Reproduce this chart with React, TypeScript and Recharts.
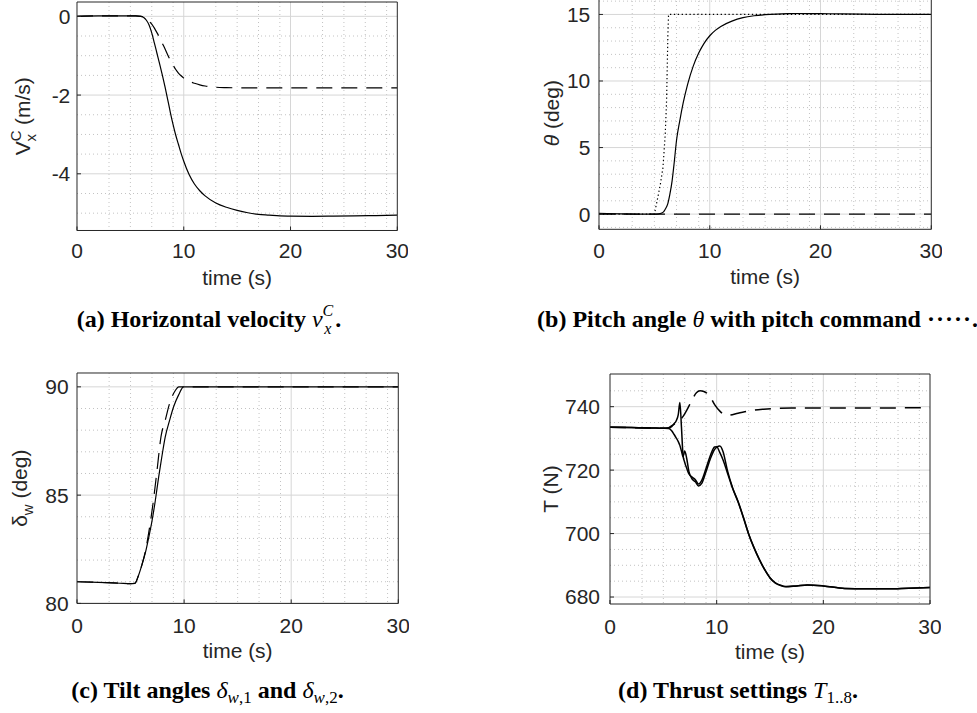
import React from 'react';
import { LineChart, Line, XAxis, YAxis, CartesianGrid } from 'recharts';

const SANS = '"Liberation Sans", Arial, Helvetica, sans-serif';
const SERIF = '"Liberation Serif", "Times New Roman", Times, serif';
const AXIS = '#262626';
const FS = 21;

// shared time axis
const timeTicks = [0, 10, 20, 30];
const timeMinor = [3, 5, 7, 9, 13, 15, 17, 19, 23, 25, 27, 29];

// (a) horizontal velocity
const tA = [0, 2, 4, 5, 5.5, 6, 6.25, 6.5, 6.75, 7, 7.25, 7.5, 7.75, 8, 8.25, 8.5, 8.75, 9, 9.25, 9.5, 9.75, 10, 10.5, 11, 11.5, 12, 13, 14, 15, 16, 17, 18, 19, 20, 22, 24, 26, 28, 30];
const vxSolid = [0, 0.01, 0.01, 0.01, 0.01, 0, -0.03, -0.1, -0.22, -0.42, -0.68, -0.95, -1.22, -1.5, -1.8, -2.12, -2.45, -2.75, -3.02, -3.25, -3.48, -3.68, -4.02, -4.26, -4.43, -4.56, -4.74, -4.85, -4.93, -4.99, -5.03, -5.05, -5.07, -5.075, -5.08, -5.075, -5.07, -5.06, -5.05];
const vxDashed = [0, 0.01, 0.01, 0.01, 0.01, 0, -0.02, -0.06, -0.12, -0.2, -0.3, -0.42, -0.55, -0.69, -0.83, -0.98, -1.12, -1.24, -1.35, -1.44, -1.51, -1.57, -1.65, -1.7, -1.74, -1.77, -1.8, -1.81, -1.815, -1.815, -1.815, -1.815, -1.815, -1.815, -1.815, -1.815, -1.815, -1.815, -1.815];
const vxTicks = [-4, -2, 0];
const vxMinor = [-5, -4.5, -3.5, -3, -2.5, -1.5, -1, -0.5];

// (b) pitch angle
const tB = [0, 2, 4, 5, 5.4, 5.8, 6.0, 6.2, 6.4, 6.6, 6.8, 7.0, 7.3, 7.6, 8.0, 8.5, 9.0, 9.5, 10, 10.5, 11, 12, 13, 14, 15, 16, 17, 18, 20, 22, 25, 28, 30];
const thetaSolid = [0.05, 0.02, 0.0, 0.0, 0.02, 0.15, 0.4, 0.75, 1.5, 2.5, 3.95, 5.55, 7.05, 8.35, 9.75, 11.1, 12.1, 12.85, 13.4, 13.8, 14.1, 14.5, 14.76, 14.9, 14.98, 15.03, 15.06, 15.07, 15.06, 15.04, 15.01, 15.0, 15.0];
const tCmd = [0, 5.0, 5.23, 5.53, 5.77, 5.98, 6.1, 6.16, 6.22, 6.28, 10, 20, 30];
const thetaCmd = [0, 0, 0.93, 2.2, 3.45, 6.0, 8.5, 11, 13.5, 15, 15, 15, 15];
const tZero = [0, 10, 20, 30];
const thetaDashed = [0, 0, 0, 0];
const thetaTicks = [0, 5, 10, 15];
const thetaMinor = [-1, 1, 2, 3, 4, 6, 7, 8, 9, 11, 12, 13, 14, 16];

// (c) tilt angles
const tC1 = [0, 2, 4, 5, 5.4, 5.75, 6.07, 6.38, 6.69, 7.0, 7.31, 7.62, 7.94, 8.24, 8.65, 9.02, 9.49, 9.96, 10.5, 15, 20, 25, 30];
const tilt1 = [81.0, 80.97, 80.93, 80.91, 80.92, 81.3, 81.79, 82.33, 83.03, 83.8, 84.74, 85.82, 86.83, 87.69, 88.46, 89.08, 89.63, 90, 90, 90, 90, 90, 90];
const tC2 = [0, 2, 4, 5, 5.4, 5.75, 6.07, 6.38, 6.69, 7.09, 7.47, 7.84, 8.24, 8.65, 9.18, 9.5, 10, 15, 20, 25, 30];
const tilt2 = [81.0, 80.97, 80.93, 80.91, 80.93, 81.3, 81.8, 82.4, 83.25, 84.58, 86.13, 87.69, 88.46, 89.24, 89.83, 90, 90, 90, 90, 90, 90];
const tiltTicks = [80, 85, 90];
const tiltMinor = [81, 82, 83, 84, 86, 87, 88, 89];

// (d) thrust settings
const tD = [0, 2, 4, 5, 5.5, 5.8, 6.0, 6.2, 6.4, 6.55, 6.7, 6.85, 7.0, 7.2, 7.4, 7.7, 8.0, 8.3, 8.6, 9.0, 9.4, 9.8, 10.0, 10.3, 10.6, 11.0, 11.5, 12.0, 12.5, 13.0, 13.5, 14.0, 14.5, 15.0, 15.5, 16.0, 16.5, 17.5, 18.5, 20, 22, 24, 26, 28, 30];
const thrustA = [733.5, 733.4, 733.3, 733.2, 733.3, 733.8, 734.6, 735.5, 737.5, 741.3, 733.5, 724.5, 722.5, 720.5, 718.8, 717.8, 717.0, 715.6, 716.8, 720.5, 724.5, 727.3, 727.4, 725.5, 723.2, 719.2, 714.2, 710.0, 705.1, 699.8, 695.5, 691.8, 688.6, 686.0, 684.4, 683.6, 683.2, 683.5, 683.8, 683.5, 682.7, 682.6, 682.6, 682.8, 683.0];
const thrustB = [733.5, 733.4, 733.3, 733.2, 733.1, 732.3, 731.3, 730.2, 729.0, 727.8, 726.0, 724.2, 726.0, 723.5, 719.5, 717.2, 716.3, 715.0, 715.8, 719.5, 723.5, 726.5, 727.2, 727.6, 725.8, 720.0, 714.4, 710.2, 705.2, 699.9, 695.6, 691.9, 688.7, 686.1, 684.5, 683.7, 683.3, 683.5, 683.8, 683.5, 682.7, 682.6, 682.6, 682.8, 683.0];
const tDash = [0, 2, 4, 5, 5.5, 5.8, 6.0, 6.25, 6.5, 6.87, 7.2, 7.66, 8.1, 8.44, 8.8, 9.37, 9.84, 10.3, 10.8, 11.1, 12.0, 13.1, 14.4, 15.8, 17, 20, 25, 30];
const thrustDashed = [733.5, 733.4, 733.3, 733.2, 733.4, 734.0, 734.4, 734.9, 735.6, 737.0, 738.9, 741.9, 744.4, 745.0, 744.8, 743.2, 740.5, 738.6, 737.4, 737.3, 737.9, 738.7, 739.2, 739.5, 739.6, 739.6, 739.6, 739.7];
const thrustTicks = [680, 700, 720, 740];
const thrustMinor = [685, 690, 695, 705, 710, 715, 725, 730, 735, 745];

const zip = (t: number[], v: number[]) => t.map((x, i) => ({ t: x, v: v[i] }));

type Series = { data: { t: number; v: number }[]; dash?: string; width?: number; kind?: 'monotone' | 'linear' };

const tickStyle = { fill: AXIS, fontSize: FS, fontFamily: SANS };

function TimeLabel(props: any) {
  const vb = props.viewBox || {};
  return (
    <text x={vb.x + vb.width / 2} y={vb.y + 55} textAnchor="middle" fill={AXIS} fontSize={FS} fontFamily={SANS}>
      time (s)
    </text>
  );
}

function makeYLabel(kind: string, dx: number) {
  return (props: any) => {
    const vb = props.viewBox || {};
    const x = vb.x + vb.width + dx;
    const y = vb.y + vb.height / 2;
    let content: React.ReactNode = null;
    if (kind === 'a') {
      content = (
        <>
          V<tspan fontSize={15} dy={-9}>C</tspan>
          <tspan fontSize={15} dx={-11} dy={15}>x</tspan>
          <tspan dx={3} dy={-6}> (m/s)</tspan>
        </>
      );
    } else if (kind === 'b') {
      content = (
        <>
          <tspan fontStyle="italic">θ</tspan> (deg)
        </>
      );
    } else if (kind === 'c') {
      content = (
        <>
          δ<tspan fontSize={15} dy={6}>w</tspan>
          <tspan dy={-6}> (deg)</tspan>
        </>
      );
    } else {
      content = <>T (N)</>;
    }
    return (
      <text x={x} y={y} transform={`rotate(-90, ${x}, ${y})`} textAnchor="middle" fill={AXIS} fontSize={FS} fontFamily={SANS}>
        {content}
      </text>
    );
  };
}

type PanelProps = {
  L: number; R: number; T: number; B: number;
  yDomain: [number, number]; yTicks: number[]; yMinor: number[];
  series: Series[]; label: string; labelDx: number;
  tmX: number; tmY: number; lineWidth: number;
};

function Panel({ L, R, T, B, yDomain, yTicks, yMinor, series, label, labelDx, tmX, tmY, lineWidth }: PanelProps) {
  const left = L - 80;
  const top = T - 2;
  const width = R - left + 11;
  const height = B - top + 62;
  return (
    <div style={{ position: 'absolute', left, top, width, height }}>
      <LineChart width={width} height={height} margin={{ top: 1, right: 10, bottom: 0, left: 0 }}>
        <CartesianGrid verticalValues={timeMinor} horizontalValues={yMinor} stroke="#c2c2c2" strokeDasharray="1 3" />
        <CartesianGrid verticalValues={[10, 20]} horizontalValues={yTicks} stroke="#d6d6d6" />
        <XAxis
          type="number" dataKey="t" domain={[0, 30]} ticks={timeTicks} interval={0} allowDataOverflow
          height={60} tickSize={-4} tickMargin={tmX}
          axisLine={{ stroke: AXIS }} tickLine={{ stroke: AXIS }} tick={tickStyle}
          label={(p: any) => <TimeLabel {...p} />}
        />
        <XAxis
          xAxisId="top" orientation="top" type="number" dataKey="t" domain={[0, 30]} ticks={timeTicks} interval={0} allowDataOverflow
          height={1} tickSize={-4} tick={false} axisLine={{ stroke: AXIS }} tickLine={{ stroke: AXIS }}
        />
        <YAxis
          type="number" domain={yDomain} ticks={yTicks} interval={0} allowDataOverflow
          width={80} tickSize={-4} tickMargin={tmY}
          axisLine={{ stroke: AXIS }} tickLine={{ stroke: AXIS }} tick={tickStyle}
          label={makeYLabel(label, labelDx)}
        />
        <YAxis
          yAxisId="right" orientation="right" type="number" domain={yDomain} ticks={yTicks} interval={0} allowDataOverflow
          width={1} tickSize={-4} tick={false} axisLine={{ stroke: AXIS }} tickLine={{ stroke: AXIS }}
        />
        {series.map((s, i) => (
          <Line
            key={i}
            data={s.data}
            dataKey="v"
            type={s.kind || 'monotone'}
            stroke="#000"
            strokeWidth={s.width || lineWidth}
            strokeDasharray={s.dash}
            dot={false}
            activeDot={false}
            isAnimationActive={false}
          />
        ))}
      </LineChart>
    </div>
  );
}

const DASH = '16 9';
const DOT = '1.3 2.6';

export default function App() {
  const mathStyle = { fontStyle: 'italic' as const, fontWeight: 'normal' as const };
  return (
    <div style={{ position: 'absolute', left: 0, top: 0, width: 977, height: 713, background: '#fff', overflow: 'hidden' }}>
      <Panel
        L={76.7} R={397} T={1.5} B={228}
        yDomain={[-5.44, 0.364]} yTicks={vxTicks} yMinor={vxMinor}
        series={[{ data: zip(tA, vxSolid) }, { data: zip(tA, vxDashed), dash: DASH }]}
        label="a" labelDx={-47.4} tmX={16.6} tmY={10.7} lineWidth={1.2}
      />
      <Panel
        L={598.7} R={931} T={-3} B={227.3}
        yDomain={[-1.14, 16.31]} yTicks={thetaTicks} yMinor={thetaMinor}
        series={[
          { data: zip(tZero, thetaDashed), dash: DASH, kind: 'linear' },
          { data: zip(tCmd, thetaCmd), dash: DOT, kind: 'linear' },
          { data: zip(tB, thetaSolid) },
        ]}
        label="b" labelDx={-40.4} tmX={17.6} tmY={12.7} lineWidth={1.2}
      />
      <Panel
        L={76.7} R={398} T={373.3} B={601.7}
        yDomain={[80, 90.64]} yTicks={tiltTicks} yMinor={tiltMinor}
        series={[{ data: zip(tC1, tilt1) }, { data: zip(tC2, tilt2), dash: DASH }]}
        label="c" labelDx={-50} tmX={18.2} tmY={12.4} lineWidth={1.2}
      />
      <Panel
        L={610} R={930} T={374.3} B={602.3}
        yDomain={[677.8, 750.3]} yTicks={thrustTicks} yMinor={thrustMinor}
        series={[
          { data: zip(tDash, thrustDashed), dash: DASH },
          { data: zip(tD, thrustB) },
          { data: zip(tD, thrustA) },
        ]}
        label="d" labelDx={-51.7} tmX={19.3} tmY={14} lineWidth={1.5}
      />
      <svg width={977} height={713} style={{ position: 'absolute', left: 0, top: 0, pointerEvents: 'none' }}>
        <g fontFamily={SERIF} fontWeight="bold" fontSize={24} fill="#000" textAnchor="middle">
          <text x={209} y={327}>
            (a) Horizontal velocity <tspan {...mathStyle}>v</tspan>
            <tspan {...mathStyle} fontSize={16} dy={-11}>C</tspan>
            <tspan {...mathStyle} fontSize={16} dx={-9} dy={18}>x</tspan>
            <tspan dx={4} dy={-7}>.</tspan>
          </text>
          <text x={757.5} y={327}>
            (b) Pitch angle <tspan {...mathStyle}>θ</tspan> with pitch command <tspan letterSpacing={1}>·····</tspan>.
          </text>
          <text x={207.5} y={698}>
            (c) Tilt angles <tspan {...mathStyle}>δ</tspan>
            <tspan {...mathStyle} fontSize={17} dy={5}>w</tspan>
            <tspan fontWeight="normal" fontSize={17}>,1</tspan>
            <tspan dy={-5}> and </tspan>
            <tspan {...mathStyle}>δ</tspan>
            <tspan {...mathStyle} fontSize={17} dy={5}>w</tspan>
            <tspan fontWeight="normal" fontSize={17}>,2</tspan>
            <tspan dy={-5}>.</tspan>
          </text>
          <text x={738} y={698}>
            (d) Thrust settings <tspan {...mathStyle}>T</tspan>
            <tspan fontWeight="normal" fontSize={17} dy={5}>1..8</tspan>
            <tspan dy={-5}>.</tspan>
          </text>
        </g>
      </svg>
    </div>
  );
}
